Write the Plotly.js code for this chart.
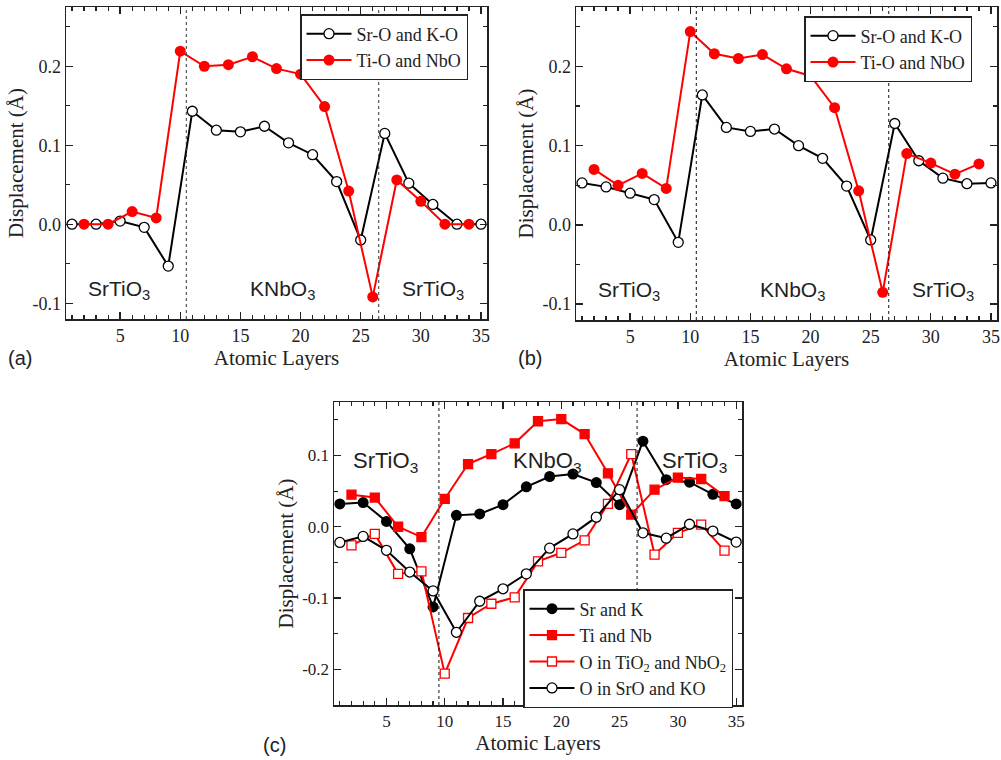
<!DOCTYPE html>
<html>
<head>
<meta charset="utf-8">
<script src="https://cdn.plot.ly/plotly-3.0.1.min.js"></script>
<style>html,body{margin:0;padding:0;background:#fff}#chart{width:1001px;height:760px}</style>
</head>
<body>
<div id="chart"></div>
<script>
// ---- Data ----
const layersOdd  = [1,3,5,7,9,11,13,15,17,19,21,23,25,27,29,31,33,35];
const layersEven = [2,4,6,8,10,12,14,16,18,20,22,24,26,28,30,32,34];

// panel (a)
const aSrO = [0.0,0.0,0.004,-0.004,-0.053,0.143,0.119,0.117,0.124,0.103,0.088,0.054,-0.020,0.115,0.052,0.025,0.0,0.0];
const aTiO = [0.0,0.0,0.016,0.008,0.219,0.200,0.202,0.212,0.197,0.190,0.149,0.042,-0.092,0.056,0.029,0.0,0.0];
// panel (b)
const bSrO = [0.053,0.048,0.040,0.032,-0.022,0.164,0.123,0.118,0.121,0.100,0.084,0.049,-0.019,0.128,0.081,0.059,0.052,0.053];
const bTiO = [0.070,0.050,0.065,0.046,0.244,0.216,0.210,0.215,0.197,0.188,0.148,0.043,-0.085,0.090,0.078,0.064,0.077];
// panel (c)
const cSrK  = [0.032,0.034,0.0075,-0.031,-0.1125,0.016,0.018,0.031,0.056,0.0705,0.074,0.062,0.031,0.120,0.066,0.0625,0.0455,0.032];
const cTiNb = [0.045,0.041,0.0,-0.0145,0.039,0.088,0.102,0.117,0.148,0.151,0.130,0.075,0.017,0.052,0.069,0.067,0.043];
const cOTi  = [-0.026,-0.010,-0.066,-0.0625,-0.206,-0.128,-0.108,-0.099,-0.0485,-0.0365,-0.019,0.032,0.102,-0.039,-0.0085,0.003,-0.0335];
const cOSr  = [-0.022,-0.0135,-0.033,-0.0635,-0.090,-0.148,-0.1045,-0.087,-0.066,-0.030,-0.010,0.0135,0.052,-0.0085,-0.016,0.0035,-0.006,-0.0215];

const dividersAB = [10.5, 26.5];
const dividersC  = [9.5, 26.5];

const namesAB = ['Sr-O and K-O', 'Ti-O and NbO'];
const namesC  = ['Sr and K', 'Ti and Nb', 'O in TiO<sub>2</sub> and NbO<sub>2</sub>', 'O in SrO and KO'];

const yTicksAB = [-0.1, 0.0, 0.1, 0.2];
const yTextAB  = ['-0.1', '0.0', '0.1', '0.2'];
const yTicksC  = [-0.2, -0.1, 0.0, 0.1];
const yTextC   = ['-0.2', '-0.1', '0.0', '0.1'];
const xTicks   = [5, 10, 15, 20, 25, 30, 35];

const regionLabels = ['SrTiO<sub>3</sub>', 'KNbO<sub>3</sub>', 'SrTiO<sub>3</sub>'];
const regionXab = [4.9, 18.5, 31.0];
const regionXc  = [4.9, 18.8, 31.4];

// ---- Styles ----
const BLACK = '#000000', RED = '#ff0000';
const serif = 'Liberation Serif, Times New Roman, serif';
const sans = 'Liberation Sans, Arial, sans-serif';

function openCircle(x, y, name, xa, ya, leg) {
  return {x, y, name, xaxis: xa, yaxis: ya, legend: leg, type: 'scatter', mode: 'lines+markers',
    line: {color: BLACK, width: 2},
    marker: {symbol: 'circle', size: 10, color: '#ffffff', line: {color: BLACK, width: 1.3}}};
}
function filledCircle(x, y, name, xa, ya, leg, col) {
  return {x, y, name, xaxis: xa, yaxis: ya, legend: leg, type: 'scatter', mode: 'lines+markers',
    line: {color: col, width: 2},
    marker: {symbol: 'circle', size: 11, color: col, line: {color: col, width: 0}}};
}
function square(x, y, name, xa, ya, leg, filled) {
  return {x, y, name, xaxis: xa, yaxis: ya, legend: leg, type: 'scatter', mode: 'lines+markers',
    line: {color: RED, width: 2},
    marker: {symbol: 'square', size: 9, color: filled ? RED : '#ffffff', line: {color: RED, width: 1.3}}};
}

const traces = [
  openCircle(layersOdd, aSrO, namesAB[0], 'x', 'y', 'legend'),
  filledCircle(layersEven, aTiO, namesAB[1], 'x', 'y', 'legend', RED),
  openCircle(layersOdd, bSrO, namesAB[0], 'x2', 'y2', 'legend2'),
  filledCircle(layersEven, bTiO, namesAB[1], 'x2', 'y2', 'legend2', RED),
  filledCircle(layersOdd, cSrK, namesC[0], 'x3', 'y3', 'legend3', BLACK),
  square(layersEven, cTiNb, namesC[1], 'x3', 'y3', 'legend3', true),
  square(layersEven, cOTi, namesC[2], 'x3', 'y3', 'legend3', false),
  openCircle(layersOdd, cOSr, namesC[3], 'x3', 'y3', 'legend3')
];

function xAxis(domain, anchor, fs) {
  return {domain, anchor, range: [0.5, 35.5], tickmode: 'array', tickvals: xTicks,
    ticks: 'inside', ticklen: 7, tickwidth: 1.3, tickcolor: '#222',
    minor: {tickmode: 'linear', tick0: 0, dtick: 1, ticks: 'inside', ticklen: 4, tickwidth: 1.2, tickcolor: '#222'},
    showline: true, linecolor: '#222', linewidth: 1.5, mirror: 'allticks',
    showgrid: false, zeroline: false,
    tickfont: {family: serif, size: fs, color: '#222'},
    title: {text: 'Atomic Layers', font: {family: serif, size: 21, color: '#222'}, standoff: 2}};
}
function yAxis(domain, anchor, range, tv, tt, fs) {
  return {domain, anchor, range, tickmode: 'array', tickvals: tv, ticktext: tt,
    ticks: 'inside', ticklen: 7, tickwidth: 1.3, tickcolor: '#222',
    minor: {tickmode: 'linear', tick0: 0, dtick: 0.05, ticks: 'inside', ticklen: 4, tickwidth: 1.2, tickcolor: '#222'},
    showline: true, linecolor: '#222', linewidth: 1.5, mirror: 'allticks',
    showgrid: false, zeroline: false,
    tickfont: {family: serif, size: fs, color: '#222'},
    title: {text: 'Displacement (Å)', font: {family: serif, size: 21, color: '#222'}, standoff: 3}};
}

const shapes = [];
dividersAB.forEach(v => {
  shapes.push({type: 'line', xref: 'x', yref: 'y domain', x0: v, x1: v, y0: 0, y1: 1, line: {color: '#333', width: 1, dash: 'dot'}});
  shapes.push({type: 'line', xref: 'x2', yref: 'y2 domain', x0: v, x1: v, y0: 0, y1: 1, line: {color: '#111', width: 1, dash: 'dot'}});
});
dividersC.forEach(v => {
  shapes.push({type: 'line', xref: 'x3', yref: 'y3 domain', x0: v, x1: v, y0: 0, y1: 1, line: {color: '#111', width: 1, dash: 'dot'}});
});

const annotations = [];
regionLabels.forEach((t, i) => {
  annotations.push({text: t, xref: 'x', yref: 'y', x: regionXab[i], y: -0.083, showarrow: false,
    font: {family: sans, size: 21, color: '#222'}});
  annotations.push({text: t, xref: 'x2', yref: 'y2', x: regionXab[i], y: -0.083, showarrow: false,
    font: {family: sans, size: 21, color: '#222'}});
  annotations.push({text: t, xref: 'x3', yref: 'y3', x: regionXc[i], y: 0.091, showarrow: false,
    font: {family: sans, size: 22, color: '#222'}});
});
[['(a)', 20, 358], ['(b)', 530, 358], ['(c)', 274, 745]].forEach(p => {
  annotations.push({text: p[0], xref: 'paper', yref: 'paper', x: p[1] / 1001, y: 1 - p[2] / 760,
    xanchor: 'center', yanchor: 'middle', showarrow: false, font: {family: sans, size: 20, color: '#222'}});
});

function legendCfg(x, y) {
  return {x, y, xanchor: 'left', yanchor: 'top', xref: 'paper', yref: 'paper',
    bgcolor: '#ffffff', bordercolor: '#222', borderwidth: 1.5, itemwidth: 45,
    font: {family: serif, size: 18, color: '#222'}, tracegroupgap: 0};
}

const layout = {
  width: 1001, height: 760,
  margin: {l: 0, r: 0, t: 0, b: 0},
  paper_bgcolor: '#ffffff', plot_bgcolor: '#ffffff',
  showlegend: true,
  font: {family: serif, color: '#222'},
  xaxis: xAxis([66 / 1001, 487 / 1001], 'y', 18),
  yaxis: yAxis([1 - 319 / 760, 1 - 7 / 760], 'x', [-0.12, 0.275], yTicksAB, yTextAB, 18),
  xaxis2: xAxis([576 / 1001, 997 / 1001], 'y2', 18),
  yaxis2: yAxis([1 - 320 / 760, 1 - 7 / 760], 'x2', [-0.12, 0.275], yTicksAB, yTextAB, 18),
  xaxis3: xAxis([334 / 1001, 742 / 1001], 'y3', 17),
  yaxis3: yAxis([1 - 705 / 760, 1 - 402 / 760], 'x3', [-0.25, 0.175], yTicksC, yTextC, 17),
  legend: legendCfg(300 / 1001, 1 - 14 / 760),
  legend2: legendCfg(804 / 1001, 1 - 16 / 760),
  legend3: legendCfg(523 / 1001, 1 - 589 / 760),
  shapes, annotations
};

Plotly.newPlot('chart', traces, layout, {staticPlot: true, displayModeBar: false});
</script>
</body>
</html>
